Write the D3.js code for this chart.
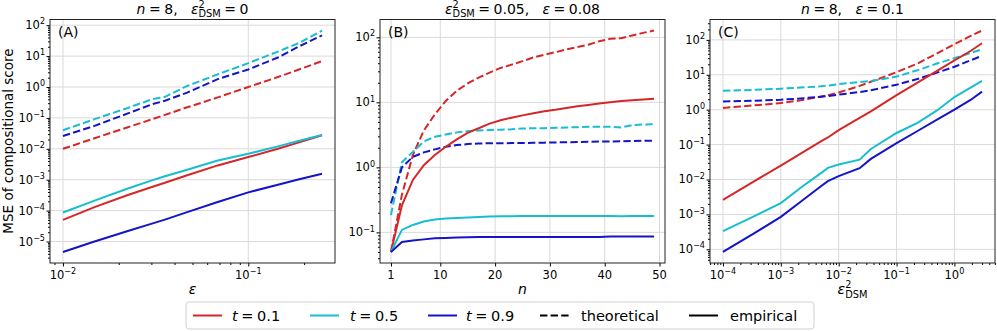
<!DOCTYPE html>
<html>
<meta charset="utf-8">
<head>
  <script src="https://d3js.org/d3.v7.min.js"></script>
  <style>
    body { margin: 0; background: #fff; }
    svg text { font-family: "DejaVu Sans", sans-serif; fill: #000; }
    .grid line { stroke: #d9d9d9; stroke-width: 1; }
    .frame { fill: none; stroke: #222; stroke-width: 1; }
  </style>
</head>
<body>
<div id="chart"></div>
<script>
"use strict"

// ---- data ----
// panel A: n = 8, eps_DSM^2 = 0
var epsA = [0.01, 0.0148, 0.0224, 0.0302, 0.0355, 0.0468, 0.0684, 0.1, 0.1445, 0.186, 0.25];
var theoA01 = [0.01, 0.022, 0.05, 0.09, 0.125, 0.22, 0.46, 1.0, 2.1, 3.6, 6.9];
var theoA05 = [0.040, 0.091, 0.21, 0.40, 0.48, 1.08, 2.57, 5.9, 14, 26, 67];
var theoA09 = [0.026, 0.055, 0.14, 0.275, 0.36, 0.66, 1.8, 3.7, 9, 20, 47];
var empA01 = [5e-5, 1.3e-4, 3.2e-4, 5.8e-4, 8e-4, 1.4e-3, 2.9e-3, 5.4e-3, 0.01, 0.0158, 0.0275];
var empA05 = [8.7e-5, 2.1e-4, 5.2e-4, 9.5e-4, 1.3e-3, 2.1e-3, 4.2e-3, 6.9e-3, 0.012, 0.0178, 0.028];
var empA09 = [4.6e-6, 1.0e-5, 2.2e-5, 3.8e-5, 5.1e-5, 8.9e-5, 1.9e-4, 3.9e-4, 6.9e-4, 1.02e-3, 1.55e-3];

// panel B: eps_DSM^2 = 0.05, eps = 0.08
var nB = [1,3,5,7,9,11,13,15,17,19,21,23,25,27,29,31,33,35,37,39,41,43,45,47,49];
var theoB01 = [0.05, 0.38, 1.55, 3.7, 6.5, 10.5, 15, 19.5, 24, 28.6, 33.8, 38, 43, 49, 54, 59, 65, 71, 77, 87, 95, 97, 107, 117, 127];
var theoB05 = [0.185, 1.2, 1.73, 2.5, 2.95, 3.2, 3.45, 3.6, 3.7, 3.75, 3.8, 3.85, 3.95, 4.0, 4.0, 4.05, 4.1, 4.15, 4.2, 4.2, 4.2, 4.1, 4.45, 4.55, 4.6];
var theoB09 = [0.28, 1.0, 1.45, 1.7, 1.89, 2.07, 2.2, 2.28, 2.33, 2.35, 2.35, 2.36, 2.37, 2.38, 2.4, 2.42, 2.43, 2.45, 2.47, 2.49, 2.5, 2.52, 2.55, 2.56, 2.56];
var empB01 = [0.05, 0.26, 0.64, 1.08, 1.55, 2.07, 2.7, 3.4, 4.0, 4.7, 5.3, 5.8, 6.3, 6.8, 7.3, 7.7, 8.2, 8.7, 9.1, 9.6, 10, 10.5, 10.8, 11.1, 11.4];
var empB05 = [0.05, 0.109, 0.13, 0.147, 0.158, 0.163, 0.167, 0.17, 0.172, 0.175, 0.177, 0.177, 0.178, 0.178, 0.178, 0.178, 0.178, 0.178, 0.178, 0.178, 0.178, 0.177, 0.178, 0.179, 0.179];
var empB09 = [0.05, 0.071, 0.075, 0.078, 0.081, 0.082, 0.083, 0.084, 0.085, 0.085, 0.085, 0.085, 0.085, 0.085, 0.085, 0.085, 0.085, 0.085, 0.085, 0.085, 0.086, 0.086, 0.086, 0.086, 0.086];

// panel C: n = 8, eps = 0.1
var epsC = [1e-4, 3.5e-4, 1e-3, 2.2e-3, 5e-3, 6.5e-3, 1e-2, 2.3e-2, 3.6e-2, 0.1, 0.23, 0.5, 1, 1.9, 3];
var theoC01 = [1.12, 1.33, 1.55, 1.85, 2.4, 2.6, 3.1, 4.8, 6.3, 11.9, 21, 41, 75, 130, 185];
var theoC05 = [3.5, 3.7, 4.0, 4.3, 4.7, 4.9, 5.4, 6.2, 6.6, 8.9, 13.5, 21, 30, 42, 54];
var theoC09 = [1.73, 1.8, 1.93, 2.1, 2.35, 2.45, 2.7, 3.2, 3.6, 5.2, 7.6, 11.5, 17, 26, 35];
var empC01 = [2.6e-3, 9e-3, 0.025, 0.055, 0.125, 0.16, 0.26, 0.58, 0.9, 2.6, 6.0, 13, 26, 48, 80];
var empC05 = [3.3e-4, 8.9e-4, 2.1e-3, 5.8e-3, 0.0155, 0.0215, 0.027, 0.037, 0.075, 0.215, 0.42, 0.95, 2.3, 4.3, 6.7];
var empC09 = [8.4e-5, 2.9e-4, 8.5e-4, 2.3e-3, 6.5e-3, 9e-3, 0.0125, 0.021, 0.039, 0.11, 0.245, 0.52, 1.0, 1.9, 3.3];

var tLabels = ["0.1", "0.5", "0.9"];
var colors = ["#d62728", "#17becf", "#1414c8"];

var width = 997, height = 331;
var top0 = 19.5, bot0 = 263;
var EQ = "\u2005=\u2005";   // mathtext-like spacing around "="

var svg = d3.select("#chart").append("svg")
    .attr("width", width).attr("height", height);

// lays out a row of text pieces (italic, super/subscripts) and anchors it
function mathText(parent, x, y, parts, size, anchor) {
  var g = parent.append("g");
  var cx = 0;
  parts.forEach(function(p) {
    if (p.sup !== undefined || p.sub !== undefined) {
      var w = 0;
      if (p.sup !== undefined) {
        var s1 = g.append("text").attr("x", cx).attr("y", -size * 0.42)
            .style("font-size", (size * 0.7) + "px").text(p.sup);
        w = Math.max(w, s1.node().getComputedTextLength());
      }
      if (p.sub !== undefined) {
        var s2 = g.append("text").attr("x", cx).attr("y", size * 0.28)
            .style("font-size", (size * 0.7) + "px").text(p.sub);
        w = Math.max(w, s2.node().getComputedTextLength());
      }
      cx += w;
    } else {
      var t = g.append("text").attr("x", cx).attr("y", 0)
          .style("font-size", size + "px")
          .style("font-style", p.i ? "italic" : "normal")
          .text(p.t);
      cx += t.node().getComputedTextLength();
    }
  });
  var off = anchor === "middle" ? -cx / 2 : anchor === "end" ? -cx : 0;
  g.attr("transform", "translate(" + (x + off) + "," + y + ")");
  return g;
}

function expLabel(v) {
  var e = Math.round(Math.log10(v));
  return [{t: "10"}, {sup: (e < 0 ? "\u2212" : "") + Math.abs(e)}];
}

function logDomain(vals) {
  var lo = Math.log10(d3.min(vals)), hi = Math.log10(d3.max(vals));
  var pad = 0.05 * (hi - lo);
  return [Math.pow(10, lo - pad), Math.pow(10, hi + pad)];
}

function decades(dom) {
  var out = [];
  for (var e = Math.ceil(Math.log10(dom[0]) - 1e-9); e <= Math.floor(Math.log10(dom[1]) + 1e-9); e++) out.push(Math.pow(10, e));
  return out;
}
function minors(dom) {
  var out = [];
  for (var e = Math.floor(Math.log10(dom[0])); e <= Math.ceil(Math.log10(dom[1])); e++)
    for (var k = 2; k <= 9; k++) {
      var v = k * Math.pow(10, e);
      if (v >= dom[0] && v <= dom[1]) out.push(v);
    }
  return out;
}

function drawPanel(cfg, idx) {
  var x0 = cfg.x0, x1 = cfg.x1;
  var g = svg.append("g");
  var x = cfg.xScale.range([x0, x1]);
  var y = d3.scaleLog().domain(logDomain(cfg.series.flat())).range([bot0, top0]);

  var xMaj = cfg.xTicks || decades(x.domain());
  var yMaj = decades(y.domain());

  // grid
  var grid = g.append("g").attr("class", "grid");
  grid.selectAll(".gx").data(xMaj).enter().append("line")
      .attr("x1", x).attr("x2", x).attr("y1", top0).attr("y2", bot0);
  grid.selectAll(".gy").data(yMaj).enter().append("line")
      .attr("y1", y).attr("y2", y).attr("x1", x0).attr("x2", x1);

  // lines
  var clipId = "clip" + idx;
  g.append("clipPath").attr("id", clipId).append("rect")
      .attr("x", x0).attr("y", top0).attr("width", x1 - x0).attr("height", bot0 - top0);
  var line = d3.line().x(function(d) { return x(d[0]); }).y(function(d) { return y(d[1]); });
  var lg = g.append("g").attr("clip-path", "url(#" + clipId + ")");
  cfg.series.forEach(function(s, i) {
    var dashed = i < 3;
    lg.append("path")
        .datum(cfg.xs.map(function(v, j) { return [v, s[j]]; }))
        .attr("d", line)
        .attr("fill", "none")
        .attr("stroke", colors[i % 3])
        .attr("stroke-width", 2)
        .attr("stroke-dasharray", dashed ? "7.4,3.2" : null);
  });

  // axes
  var ax = d3.axisBottom(x).tickValues(xMaj).tickSize(3.5).tickFormat("");
  var axg = g.append("g").attr("transform", "translate(0," + bot0 + ")").call(ax);
  axg.select(".domain").remove();
  if (cfg.xLog) {
    var axm = d3.axisBottom(x).tickValues(minors(x.domain())).tickSize(2).tickFormat("");
    g.append("g").attr("transform", "translate(0," + bot0 + ")").call(axm).select(".domain").remove();
  }
  var ay = d3.axisLeft(y).tickValues(yMaj).tickSize(3.5).tickFormat("");
  g.append("g").attr("transform", "translate(" + x0 + ",0)").call(ay).select(".domain").remove();
  var aym = d3.axisLeft(y).tickValues(minors(y.domain())).tickSize(2).tickFormat("");
  g.append("g").attr("transform", "translate(" + x0 + ",0)").call(aym).select(".domain").remove();

  g.append("rect").attr("class", "frame")
      .attr("x", x0).attr("y", top0).attr("width", x1 - x0).attr("height", bot0 - top0);

  // tick labels
  xMaj.forEach(function(v) {
    if (cfg.xLog) mathText(g, x(v), bot0 + 15.5, expLabel(v), 11.5, "middle");
    else mathText(g, x(v), bot0 + 15.5, [{t: String(v)}], 11.5, "middle");
  });
  yMaj.forEach(function(v) {
    mathText(g, x0 - 5, y(v) + 4, expLabel(v), 11.5, "end");
  });

  mathText(g, x0 + 8, 37, [{t: cfg.tag}], 14, "start");
  mathText(g, (x0 + x1) / 2, 13.5, cfg.title, 14, "middle");
  mathText(g, (x0 + x1) / 2, 294, cfg.xLabel, 14, "middle");
}

var panels = [
  { x0: 50, x1: 335, xs: epsA, xLog: true, tag: "(A)",
    xScale: d3.scaleLog().domain(logDomain(epsA)),
    series: [theoA01, theoA05, theoA09, empA01, empA05, empA09],
    title: [{t: "n", i: 1}, {t: EQ + "8,\u00a0\u00a0\u00a0"}, {t: "\u03b5", i: 1}, {sup: "2", sub: "DSM"}, {t: EQ + "0"}],
    xLabel: [{t: "\u03b5", i: 1}] },
  { x0: 380, x1: 665, xs: nB, xLog: false, tag: "(B)",
    xScale: d3.scaleLinear().domain([-1, 51]), xTicks: [1, 10, 20, 30, 40, 50],
    series: [theoB01, theoB05, theoB09, empB01, empB05, empB09],
    title: [{t: "\u03b5", i: 1}, {sup: "2", sub: "DSM"}, {t: EQ + "0.05,\u00a0\u00a0\u00a0"}, {t: "\u03b5", i: 1}, {t: EQ + "0.08"}],
    xLabel: [{t: "n", i: 1}] },
  { x0: 710, x1: 995, xs: epsC, xLog: true, tag: "(C)",
    xScale: d3.scaleLog().domain(logDomain(epsC)),
    series: [theoC01, theoC05, theoC09, empC01, empC05, empC09],
    title: [{t: "n", i: 1}, {t: EQ + "8,\u00a0\u00a0\u00a0"}, {t: "\u03b5", i: 1}, {t: EQ + "0.1"}],
    xLabel: [{t: "\u03b5", i: 1}, {sup: "2", sub: "DSM"}] }
];

panels.forEach(drawPanel);

// y label
svg.append("text")
    .attr("transform", "translate(13,141) rotate(-90)")
    .attr("text-anchor", "middle")
    .style("font-size", "13.5px")
    .text("MSE of compositional score");

// legend
var leg = svg.append("g");
leg.append("rect").attr("x", 186).attr("y", 302).attr("width", 628).attr("height", 27)
    .attr("rx", 3).attr("fill", "#fff").attr("stroke", "#d0d0d0");
var legItems = [
  { lx: 193, tx: 232, color: colors[0], dash: null, label: [{t: "t", i: 1}, {t: EQ + tLabels[0]}] },
  { lx: 310, tx: 350, color: colors[1], dash: null, label: [{t: "t", i: 1}, {t: EQ + tLabels[1]}] },
  { lx: 428, tx: 466, color: colors[2], dash: null, label: [{t: "t", i: 1}, {t: EQ + tLabels[2]}] },
  { lx: 540, tx: 581, color: "#000", dash: "7.4,3.2", label: [{t: "theoretical"}] },
  { lx: 689, tx: 730, color: "#000", dash: null, label: [{t: "empirical"}] }
];
legItems.forEach(function(d) {
  leg.append("line").attr("x1", d.lx).attr("x2", d.lx + 29).attr("y1", 315.5).attr("y2", 315.5)
      .attr("stroke", d.color).attr("stroke-width", 2).attr("stroke-dasharray", d.dash);
  mathText(leg, d.tx, 320.5, d.label, 14.5, "start");
});
</script>
</body>
</html>
